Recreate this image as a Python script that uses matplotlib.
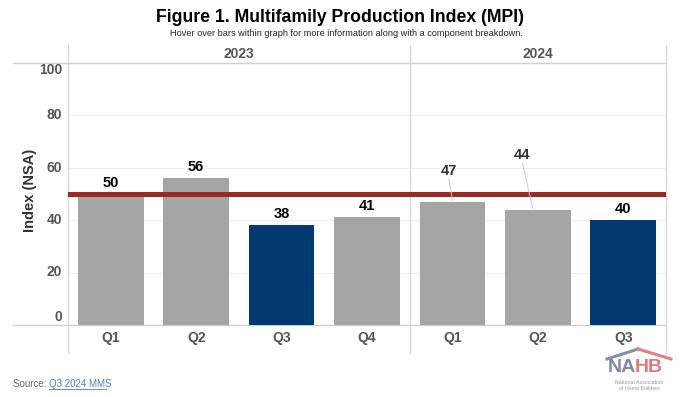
import matplotlib
matplotlib.use("Agg")
import matplotlib.pyplot as plt
from matplotlib.lines import Line2D
from matplotlib.transforms import offset_copy

plt.rcParams['font.family'] = ['Liberation Sans', 'DejaVu Sans']

years = ["2023", "2024"]
quarters = ["Q1", "Q2", "Q3", "Q4", "Q1", "Q2", "Q3"]
year_of = [0, 0, 0, 0, 1, 1, 1]
values = [50, 56, 38, 41, 47, 44, 40]
highlight = [False, False, True, False, False, False, True]
label_y = [None, None, None, None, 56, 62, None]   # raised labels with leader lines
label_x_off = [0, 0, 0, 0, -0.04, -0.18, 0]
leader_end_off = [0, 0, 0, 0, 0.0, -0.06, 0]
reference_level = 50
yticks = [0, 20, 40, 60, 80, 100]

GRAY = "#a5a5a5"
NAVY = "#003a70"
RED = "#9b2a26"
TXT = "#555555"

W, H = 680, 397
fig = plt.figure(figsize=(6.8, 3.97), dpi=100)
L, R, B, T = 68, 666, 325, 62.5
ax = fig.add_axes([L / W, 1 - B / H, (R - L) / W, (B - T) / H])

x = list(range(len(values)))
colors = [NAVY if h else GRAY for h in highlight]
ax.bar(x, values, width=0.77, color=colors, zorder=2)
ax.set_xlim(-0.5, len(values) - 0.5)
ax.set_ylim(0, 100)

for s in ax.spines.values():
    s.set_visible(False)
ax.set_yticks(yticks)
ax.set_yticklabels([])
ax.tick_params(axis='y', length=0)
ytrans = ax.get_yaxis_transform()
for v in yticks:
    dy = -7.5 if v == yticks[-1] else (8 if v == yticks[0] else 0)
    tr = offset_copy(ytrans, fig=fig, x=-6, y=dy, units='dots')
    ax.text(0, v, str(v), transform=tr, ha='right', va='center', fontsize=10,
            fontweight='bold', color=TXT)
ax.set_xticks(x)
ax.set_xticklabels(quarters, color=TXT, fontsize=10, fontweight='bold')
ax.tick_params(axis='x', length=0, pad=4)
for v in yticks[1:-1]:
    ax.axhline(v, color="#efefef", lw=0.8, zorder=0)

# horizontal boundary lines extending left
px = (R - L) / len(values)
x_left = -0.5 + (13 - L) / px
for v in (0, 100):
    ax.add_line(Line2D([x_left, len(values) - 0.5], [v, v], color="#d0d0d0", lw=1.0,
                       clip_on=False, zorder=1))

# vertical panel lines
y_top = (B - 45) / (B - T)
y_bot = (B - 353) / (B - T)
trans = ax.get_xaxis_transform()
nyear = [year_of.count(i) for i in range(len(years))]
bounds = [-0.5]
for n in nyear:
    bounds.append(bounds[-1] + n)
for bx in bounds:
    ax.add_line(Line2D([bx, bx], [y_bot, y_top], transform=trans, color="#d8d8d8",
                       lw=1.0, clip_on=False, zorder=1))
# year header
for i, yr in enumerate(years):
    cx = (bounds[i] + bounds[i + 1]) / 2
    ax.text(cx, (B - 53.5) / (B - T), yr, transform=trans, ha='center', va='center',
            fontsize=10, fontweight='bold', color=TXT)

# reference line
ax.axhline(reference_level, color=RED, lw=3.6, zorder=3)

# value labels
for i, v in enumerate(values):
    if label_y[i] is None:
        ax.text(i, v + 1.5, str(v), ha='center', va='bottom', fontsize=10.5,
                fontweight='bold', color='black', zorder=4)
    else:
        lx = i + label_x_off[i]
        ax.text(lx, label_y[i], str(v), ha='center', va='bottom', fontsize=10.5,
                fontweight='bold', color='#333333', zorder=4)
        ax.plot([lx, i + leader_end_off[i]], [label_y[i] - 0.5, v + 0.5],
                color="#c8c8c8", lw=0.7, zorder=4)

# y label
fig.text(30 / W, 1 - 190 / H, "Index (NSA)", rotation=90, ha='center', va='center',
         fontsize=10.5, fontweight='bold', color="#333333")

# titles
fig.text(340 / W, 1 - 18 / H, "Figure 1. Multifamily Production Index (MPI)", ha='center',
         va='center', fontsize=12.7, fontweight='bold', color='black')
fig.text(346 / W, 1 - 33 / H,
         "Hover over bars within graph for more information along with a component breakdown.",
         ha='center', va='center', fontsize=6.6, color='#222222')

# source
t1 = fig.text(13 / W, 1 - 384 / H, "Source: ", ha='left', va='center', fontsize=7,
              color='#666666')
fig.canvas.draw()
bb = t1.get_window_extent()
fig.text(bb.x1 / W, 1 - 384 / H, "Q3 2024 MMS", ha='left', va='center', fontsize=7,
         color='#4a7cc7')
fig.add_artist(Line2D([bb.x1 / W, (bb.x1 + 57) / W], [1 - 388.5 / H, 1 - 388.5 / H],
                      color='#4a7cc7', lw=0.6))

# NAHB logo
fig.add_artist(Line2D([607 / W, 638 / W], [1 - 359 / H, 1 - 349 / H], color='#8090b0', lw=2.2))
fig.add_artist(Line2D([638 / W, 671 / W], [1 - 349 / H, 1 - 359 / H], color='#e08080', lw=2.2))
na = fig.text(608 / W, 1 - 368 / H, "NA", ha='left', va='center', fontsize=14,
              fontweight='bold', color='#7f8aab')
fig.canvas.draw()
nb = na.get_window_extent()
fig.text((nb.x1 - 1) / W, 1 - 368 / H, "HB", ha='left', va='center', fontsize=14,
         fontweight='bold', color='#e07878')
fig.text(639 / W, 1 - 382.5 / H, "National Association", ha='center', va='center',
         fontsize=3.8, color='#999999')
fig.text(639 / W, 1 - 389 / H, "of Home Builders", ha='center', va='center',
         fontsize=3.8, color='#999999')

fig.savefig("out.png", dpi=100)
